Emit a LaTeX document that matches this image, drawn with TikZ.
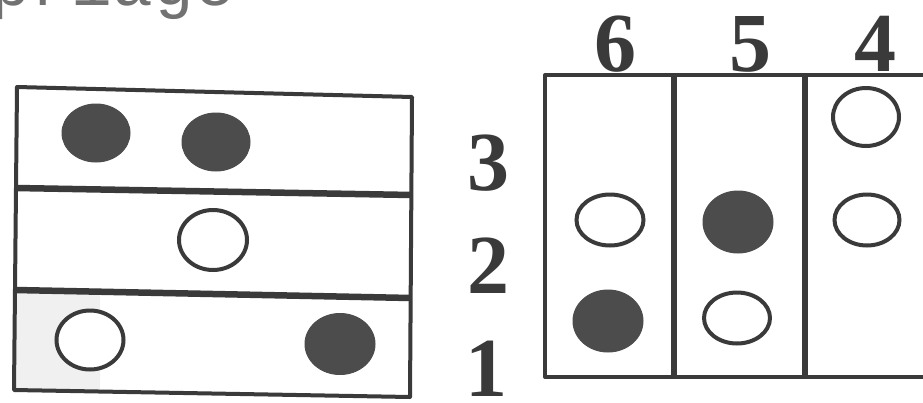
\documentclass[tikz,border=0pt]{standalone}
\usepackage{fontspec}
\setmainfont{Liberation Serif}
\newfontfamily\monofam{Liberation Mono}
\usetikzlibrary{shapes.geometric}
\definecolor{ink}{HTML}{3A3A3A}
\definecolor{dotfill}{HTML}{4C4C4C}
\definecolor{txtgray}{HTML}{727272}
\definecolor{paleshade}{HTML}{F0F0F0}
\tikzset{
  frame/.style={draw=ink, line width=4pt, line join=round},
  divider/.style={draw=ink, line width=6.5pt},
  darkdot/.style={ellipse, draw=dotfill, fill=dotfill, line width=1pt, inner sep=0pt},
  opendot/.style={ellipse, draw=ink, fill=white, line width=4pt, inner sep=0pt},
  numlabel/.style={font=\fontsize{84}{84}\selectfont\bfseries, text=ink, inner sep=0pt, anchor=base},
}
\begin{document}
\begin{tikzpicture}[x=1pt, y=-1pt]
\useasboundingbox (0,0) rectangle (923,402);
\fill[white] (0,0) rectangle (923,402);

% cut-off heading text
\node[font=\monofam\fontsize{68}{68}\selectfont, text=txtgray, inner sep=0pt, anchor=base west] (head) at (-10,5) {priage};

% ---- left box ----
\coordinate (L1) at (17,87);
\coordinate (L2) at (412,97);
\coordinate (L3) at (410,397);
\coordinate (L4) at (14,390);
\fill[paleshade] (17,293) -- (100,294) -- (100,392) -- (14,390) -- cycle;
\draw[frame] (L1) -- (L2) -- (L3) -- (L4) -- cycle;
\coordinate (D1a) at (16,188);
\coordinate (D1b) at (412,195);
\coordinate (D2a) at (15,290);
\coordinate (D2b) at (411,298);
\draw[divider] (D1a) -- (D1b);
\draw[divider] (D2a) -- (D2b);

\node[darkdot, minimum width=68pt, minimum height=58pt] (l3a) at (96,133) {};
\node[darkdot, minimum width=68pt, minimum height=58pt] (l3b) at (216,142) {};
\node[opendot, minimum width=68pt, minimum height=60pt] (l2a) at (213,240) {};
\node[opendot, minimum width=67pt, minimum height=59pt] (l1a) at (90,340) {};
\node[darkdot, minimum width=70pt, minimum height=61pt] (l1b) at (340,344) {};

% row numbers
\node[numlabel] (n3) at (488,190) {3};
\node[numlabel] (n2) at (488,293) {2};
\node[numlabel] (n1) at (486,396) {1};

% ---- right grid ----
\coordinate (R1) at (545,75);
\coordinate (R2) at (945,75);
\coordinate (R3) at (945,377);
\coordinate (R4) at (545,377);
\draw[frame] (R2) -- (R1) -- (R4) -- (R3);
\draw[divider] (674,75) -- (674,377);
\draw[divider] (805,75) -- (805,377);

\node[opendot, minimum width=67pt, minimum height=51pt] (c6a) at (610,220) {};
\node[darkdot, minimum width=70pt, minimum height=62pt] (c6b) at (608,321) {};
\node[darkdot, minimum width=70pt, minimum height=62pt] (c5a) at (738,222) {};
\node[opendot, minimum width=66pt, minimum height=51pt] (c5b) at (737,318) {};
\node[opendot, minimum width=66pt, minimum height=58pt] (c4a) at (866,117) {};
\node[opendot, minimum width=65pt, minimum height=51pt] (c4b) at (867,220) {};

% column numbers
\node[numlabel] (n6) at (615,71) {6};
\node[numlabel] (n5) at (750,71) {5};
\node[numlabel] (n4) at (875,71) {4};
\end{tikzpicture}
\end{document}
